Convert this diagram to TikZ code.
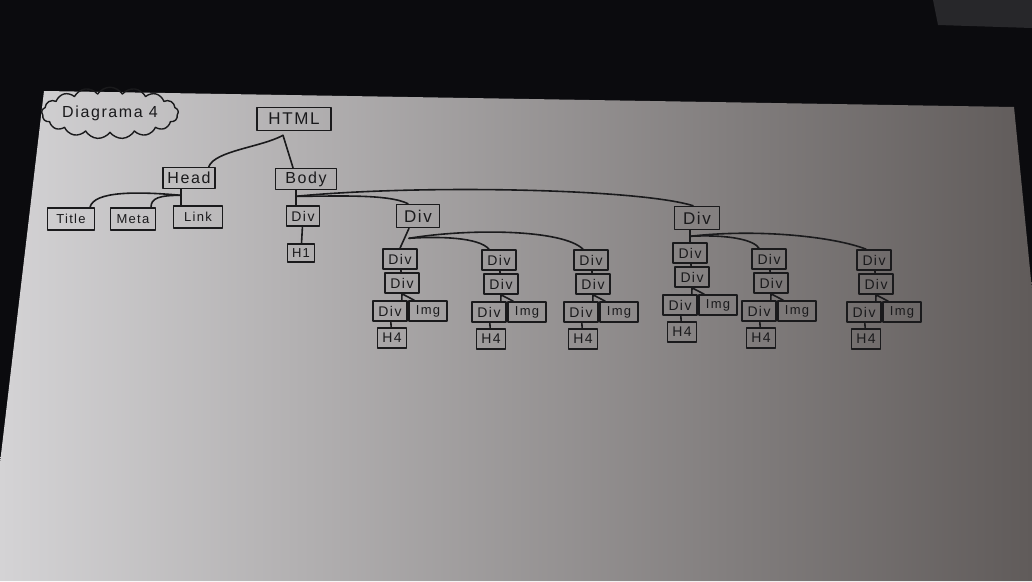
\documentclass[tikz,border=0pt]{standalone}
\usepackage{fontspec}
\setmainfont{Liberation Sans}
\usetikzlibrary{shapes.symbols}
\definecolor{ink}{HTML}{1A1A1C}
\definecolor{desk}{HTML}{0B0B0E}
\definecolor{lid}{HTML}{27272A}
\definecolor{paperlight}{HTML}{D4D3D5}
\definecolor{papermid}{HTML}{BCBABC}
\definecolor{paperdark}{HTML}{605B5A}
\newcommand{\tagfont}[1]{\fontsize{#1}{#1}\selectfont\addfontfeature{LetterSpace=10}}

\tikzset{
  tag/.style={draw=ink, line width=1.6pt, inner sep=1pt, text=ink, minimum height=20pt, font=\tagfont{14}},
  divbox/.style={tag, minimum width=34pt},
  imgbox/.style={tag, minimum width=38pt},
  hbox/.style={tag, minimum width=29pt},
  link/.style={draw=ink, line width=1.6pt, line cap=round, line join=round},
}

\begin{document}
\begin{tikzpicture}[x=1pt,y=-1pt,line cap=round,line join=round]
    \useasboundingbox (0,0) rectangle (1032,581);
    \fill[desk] (0,0) rectangle (1032,581);
    \fill[lid] (933,0) -- (1032,0) -- (1032,28) -- (938,25) -- cycle;
    \shade[left color=paperlight, middle color=papermid, right color=paperdark]
        (44,91) -- (1014,107) -- (1032,290) -- (1032,581) -- (0,581) -- (0,463) -- cycle;

    \node[cloud, draw=ink, line width=1.4pt, cloud puffs=17, cloud puff arc=115, aspect=3.5,
          minimum width=134pt, minimum height=40pt, inner sep=0pt, text=ink, font=\tagfont{16}]
          (caption) at (110,113) {Diagrama 4};

    \node[tag, minimum width=74pt, minimum height=23pt, font=\tagfont{17}] (html) at (294,119) {HTML};
    \node[tag, minimum width=52pt, minimum height=21pt, font=\tagfont{16}] (head) at (189,178) {Head};
    \node[tag, minimum width=61pt, minimum height=21pt, font=\tagfont{16}] (body) at (306,179) {Body};

    \node[tag, minimum width=47pt, minimum height=22pt, font=\tagfont{13}] (title) at (71,219) {Title};
    \node[tag, minimum width=45pt, minimum height=22pt, font=\tagfont{13}] (meta) at (133,219) {Meta};
    \node[tag, minimum width=49pt, minimum height=22pt, font=\tagfont{13}] (link) at (198,217) {Link};

    \node[divbox, minimum width=33pt] (bdiv1) at (303,216) {Div};
    \node[hbox, minimum width=27pt, minimum height=18pt, font=\tagfont{13}] (h1) at (301,253) {H1};
    \node[divbox, minimum width=43pt, minimum height=23pt, font=\tagfont{17}] (bdiv2) at (418,216) {Div};
    \node[divbox, minimum width=45pt, minimum height=23pt, font=\tagfont{17}] (bdiv3) at (697,218) {Div};

    \draw[link] ([xshift=-7pt]head.north east) .. controls +(6,-16) and +(-22,12) .. ([xshift=-11pt,yshift=-4pt]html.south);
    \draw[link] ([xshift=-11pt,yshift=-4pt]html.south) -- ([xshift=-13pt]body.north);

    \draw[link] ([xshift=-8pt]head.south) -- ([xshift=-17pt]link.north);
    \draw[link] ([xshift=-8pt,yshift=-6pt]head.south) .. controls +(-45,-4) and +(4,-16) .. ([xshift=19pt]title.north);
    \draw[link] ([xshift=-8pt,yshift=-6pt]head.south) .. controls +(-22,0) and +(0,-9) .. ([xshift=18pt]meta.north);

    \draw[link] ([xshift=-10pt]body.south) -- ([xshift=-7pt]bdiv1.north);
    \draw[link] ([xshift=-10pt,yshift=-6pt]body.south) .. controls +(40,0) and +(-20,-10) .. ([xshift=-10pt]bdiv2.north);
    \draw[link] ([xshift=-10pt,yshift=-6pt]body.south) .. controls +(124,-12) and +(-55,-17) .. ([xshift=-4pt]bdiv3.north);
    \draw[link] (bdiv1) -- (h1);

    \foreach \col/\x/\y in {a/400/259, b/499/260, c/591/260, d/690/253, e/769/259, f/874/260}{
        \node[divbox] (div1\col) at (\x,\y) {Div};
        \node[divbox] (div2\col) at (\x+2,\y+24) {Div};
        \node[divbox] (div3\col) at (\x-10,\y+52) {Div};
        \node[imgbox, font=\tagfont{13}] (img\col) at (\x+28,\y+52) {Img};
        \node[hbox] (hfour\col) at (\x-8,\y+79) {H4};
        \draw[link] (div1\col) -- (div2\col);
        \draw[link] (div2\col.south) -- ([xshift=-6pt]div3\col.north east);
        \draw[link] (div2\col.south) -- ([xshift=6pt]img\col.north west);
        \draw[link] (div3\col) -- (hfour\col);
    }

    \draw[link] (div1a.north) -- ([xshift=-9pt]bdiv2.south);
    \draw[link] ([xshift=-10pt]div1b.north) .. controls +(-10,-12) and +(30,-2) .. ([xshift=-9pt,yshift=-10pt]bdiv2.south);
    \draw[link] ([xshift=-8pt]div1c.north) .. controls +(-20,-20) and +(60,-10) .. ([xshift=-9pt,yshift=-10pt]bdiv2.south);

    \draw[link] (div1d.north) -- ([xshift=-7pt]bdiv3.south);
    \draw[link] ([xshift=-7pt,yshift=-6pt]bdiv3.south) .. controls +(40,-2) and +(-5,-8) .. ([xshift=-10pt]div1e.north);
    \draw[link] ([xshift=-7pt,yshift=-6pt]bdiv3.south) .. controls +(70,-8) and +(-30,-12) .. ([xshift=-8pt]div1f.north);
\end{tikzpicture}
\end{document}
